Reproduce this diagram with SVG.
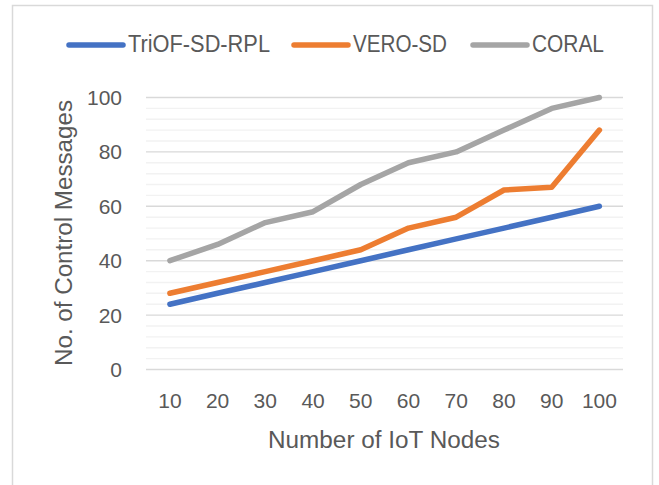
<svg xmlns="http://www.w3.org/2000/svg" width="659" height="485" viewBox="0 0 659 485">
<style>
text{font-family:"Liberation Sans",Arial,sans-serif;fill:#595959}
.tick{font-size:21px}
.ytick{text-anchor:end}
.xtick{text-anchor:middle}
.leg{font-size:23px}
.title{font-size:23px}
.major{stroke:#d9d9d9;stroke-width:1.4}
.minor{stroke:#f2f2f2;stroke-width:1.4}
.series{fill:none;stroke-width:5.5;stroke-linecap:round;stroke-linejoin:round}
.blue{stroke:#4472c4}
.orange{stroke:#ed7d31}
.gray{stroke:#a5a5a5}
</style>
<rect x="0" y="0" width="659" height="485" fill="#ffffff"/>
<rect id="frame" x="12.5" y="5.5" width="640" height="495" fill="#ffffff" stroke="#d9d9d9" stroke-width="1.5"/>
<g id="gridlines">
<line class="minor" x1="146" x2="623" y1="358.6" y2="358.6"/>
<line class="minor" x1="146" x2="623" y1="347.7" y2="347.7"/>
<line class="minor" x1="146" x2="623" y1="336.9" y2="336.9"/>
<line class="minor" x1="146" x2="623" y1="326.0" y2="326.0"/>
<line class="minor" x1="146" x2="623" y1="304.2" y2="304.2"/>
<line class="minor" x1="146" x2="623" y1="293.3" y2="293.3"/>
<line class="minor" x1="146" x2="623" y1="282.5" y2="282.5"/>
<line class="minor" x1="146" x2="623" y1="271.6" y2="271.6"/>
<line class="minor" x1="146" x2="623" y1="249.8" y2="249.8"/>
<line class="minor" x1="146" x2="623" y1="238.9" y2="238.9"/>
<line class="minor" x1="146" x2="623" y1="228.1" y2="228.1"/>
<line class="minor" x1="146" x2="623" y1="217.2" y2="217.2"/>
<line class="minor" x1="146" x2="623" y1="195.4" y2="195.4"/>
<line class="minor" x1="146" x2="623" y1="184.5" y2="184.5"/>
<line class="minor" x1="146" x2="623" y1="173.7" y2="173.7"/>
<line class="minor" x1="146" x2="623" y1="162.8" y2="162.8"/>
<line class="minor" x1="146" x2="623" y1="141.0" y2="141.0"/>
<line class="minor" x1="146" x2="623" y1="130.1" y2="130.1"/>
<line class="minor" x1="146" x2="623" y1="119.3" y2="119.3"/>
<line class="minor" x1="146" x2="623" y1="108.4" y2="108.4"/>
<line class="major" x1="146" x2="623" y1="369.5" y2="369.5"/>
<line class="major" x1="146" x2="623" y1="315.1" y2="315.1"/>
<line class="major" x1="146" x2="623" y1="260.7" y2="260.7"/>
<line class="major" x1="146" x2="623" y1="206.3" y2="206.3"/>
<line class="major" x1="146" x2="623" y1="151.9" y2="151.9"/>
<line class="major" x1="146" x2="623" y1="97.5" y2="97.5"/>
</g>
<g id="y-axis">
<text class="tick ytick" x="122" y="377">0</text>
<text class="tick ytick" x="122" y="322.6">20</text>
<text class="tick ytick" x="122" y="268.2">40</text>
<text class="tick ytick" x="122" y="213.8">60</text>
<text class="tick ytick" x="122" y="159.4">80</text>
<text class="tick ytick" x="122" y="105">100</text>
<text class="title" text-anchor="middle" transform="translate(72,233) rotate(-90)" textLength="266" lengthAdjust="spacingAndGlyphs">No. of Control Messages</text>
</g>
<g id="x-axis">
<text class="tick xtick" x="169.9" y="408">10</text>
<text class="tick xtick" x="217.6" y="408">20</text>
<text class="tick xtick" x="265.3" y="408">30</text>
<text class="tick xtick" x="313.1" y="408">40</text>
<text class="tick xtick" x="360.8" y="408">50</text>
<text class="tick xtick" x="408.5" y="408">60</text>
<text class="tick xtick" x="456.2" y="408">70</text>
<text class="tick xtick" x="504.0" y="408">80</text>
<text class="tick xtick" x="551.7" y="408">90</text>
<text class="tick xtick" x="599.4" y="408">100</text>
<text class="title" x="384" y="448" text-anchor="middle" textLength="232" lengthAdjust="spacingAndGlyphs">Number of IoT Nodes</text>
</g>
<g id="connectors">
<polyline id="series-coral" class="series gray" points="169.9,260.7 217.6,244.4 265.3,222.6 313.1,211.7 360.8,184.5 408.5,162.8 456.2,151.9 504.0,130.1 551.7,108.4 599.4,97.5"/>
<polyline id="series-vero" class="series orange" points="169.9,293.3 217.6,282.5 265.3,271.6 313.1,260.7 360.8,249.8 408.5,228.1 456.2,217.2 504.0,190.0 551.7,187.3 599.4,130.1"/>
<polyline id="series-triof" class="series blue" points="169.9,304.2 217.6,293.3 265.3,282.5 313.1,271.6 360.8,260.7 408.5,249.8 456.2,238.9 504.0,228.1 551.7,217.2 599.4,206.3"/>
</g>
<g id="legend">
<g id="legend-triof">
<line class="series blue" x1="69" y1="45" x2="123" y2="45"/>
<text class="leg" x="128" y="52" textLength="142" lengthAdjust="spacingAndGlyphs">TriOF-SD-RPL</text>
</g>
<g id="legend-vero">
<line class="series orange" x1="294" y1="45" x2="348" y2="45"/>
<text class="leg" x="353" y="52" textLength="94" lengthAdjust="spacingAndGlyphs">VERO-SD</text>
</g>
<g id="legend-coral">
<line class="series gray" x1="473" y1="45" x2="527" y2="45"/>
<text class="leg" x="532" y="52" textLength="72" lengthAdjust="spacingAndGlyphs">CORAL</text>
</g>
</g>
</svg>
